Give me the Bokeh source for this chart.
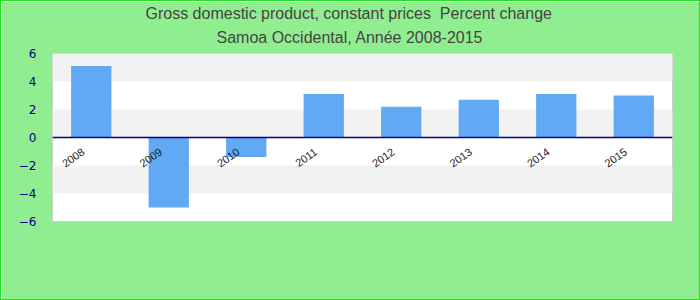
import math
from bokeh.plotting import figure
from bokeh.models import FactorRange, Range1d, FixedTicker, Title, ColumnDataSource, Span
from bokeh.core.properties import value
from bokeh.embed import file_html
from bokeh.resources import INLINE

years = ["2008", "2009", "2010", "2011", "2012", "2013", "2014", "2015"]
values = [5.1, -5.0, -1.4, 3.1, 2.2, 2.7, 3.1, 3.0]
y_ticks = [-6, -4, -2, 0, 2, 4, 6]
band_ticks = [-4, -2, 0, 2, 4, 6]
baseline = 0
title_lines = ["Gross domestic product, constant prices\u00a0 Percent change",
               "Samoa Occidental, Année 2008-2015"]

src = ColumnDataSource(dict(x=years, top=values, base=[baseline] * len(years)))

p = figure(width=700, height=300, x_range=FactorRange(*years, range_padding=0),
           y_range=Range1d(y_ticks[0], y_ticks[-1]), output_backend="svg", toolbar_location=None,
           min_border_left=51, min_border_right=29, min_border_top=0, min_border_bottom=80)
p.background_fill_color = "white"
p.border_fill_color = "#90ee90"
p.outline_line_color = "#cccccc"
p.outline_line_width = 1
p.styles = {"border": "1px solid #22dd22", "box-sizing": "border-box"}

p.title = None
p.add_layout(Title(text=title_lines[1], align="left", offset=164, vertical_align="top",
                   text_font="Liberation Sans", text_font_size="16px",
                   text_font_style="normal", text_color="#444444", standoff=12), "above")
p.add_layout(Title(text=title_lines[0], align="left", offset=93,
                   text_font="Liberation Sans", text_font_size="16px",
                   text_font_style="normal", text_color="#444444", standoff=2), "above")

p.vbar(x="x", top="top", bottom="base", width=0.52, source=src,
       fill_color="#62a9f5", line_color=None)

p.ygrid.ticker = FixedTicker(ticks=band_ticks)
p.ygrid.grid_line_color = None
p.ygrid.band_fill_color = "#f2f2f2"
p.ygrid.band_fill_alpha = 1
p.xgrid.grid_line_color = None

p.yaxis.ticker = FixedTicker(ticks=y_ticks)
p.yaxis.axis_line_color = None
p.yaxis.major_tick_line_color = None
p.yaxis.minor_tick_line_color = None
p.yaxis.major_label_text_color = "#000080"
p.yaxis.major_label_text_font = "DejaVu Sans"
p.yaxis.major_label_text_font_size = "12px"
p.yaxis.major_label_standoff = 10

p.xaxis.visible = False
p.add_layout(Span(location=baseline, dimension="width", line_color="#000099", line_width=1.5))

p.text(x="x", y="base", text="x", source=src, angle=math.radians(35),
       text_align="right", text_baseline="middle", x_offset=-8, y_offset=13,
       text_font=value("Liberation Sans"), text_font_size="11px", text_color="#222222")

open("out.html", "w").write(file_html(p, INLINE))
